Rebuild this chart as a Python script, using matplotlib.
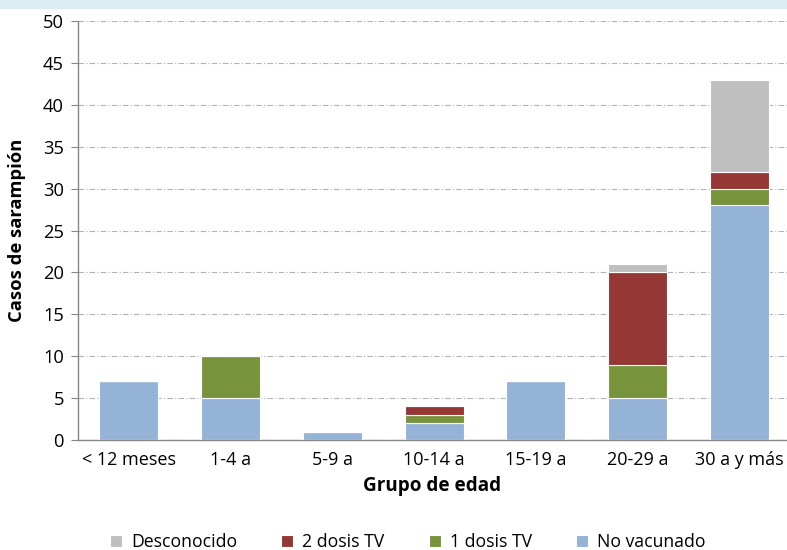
import matplotlib
matplotlib.use("Agg")
import matplotlib.pyplot as plt
from matplotlib.patches import Rectangle
import numpy as np

plt.rcParams['font.family'] = ['Open Sans', 'DejaVu Sans']

categories = ["< 12 meses", "1-4 a", "5-9 a", "10-14 a", "15-19 a", "20-29 a", "30 a y más"]
no_vacunado = [7, 5, 1, 2, 7, 5, 28]
una_dosis = [0, 5, 0, 1, 0, 4, 2]
dos_dosis = [0, 0, 0, 1, 0, 11, 2]
desconocido = [0, 0, 0, 0, 0, 1, 11]

series = [
    ("No vacunado", no_vacunado, "#95b3d7"),
    ("1 dosis TV", una_dosis, "#77933c"),
    ("2 dosis TV", dos_dosis, "#953735"),
    ("Desconocido", desconocido, "#bfbfbf"),
]

fig = plt.figure(figsize=(7.87, 5.5), dpi=100)
fig.patches.append(Rectangle((0, 1 - 8 / 550), 1, 8 / 550, transform=fig.transFigure,
                             color="#dbecf3", zorder=0))
ax = fig.add_axes([78 / 787, 0.2, 1 - 78 / 787, 0.9618 - 0.2])

x = np.arange(len(categories))
bottom = np.zeros(len(categories))
handles = {}
for name, vals, col in series:
    v = np.array(vals, dtype=float)
    b = ax.bar(x, v, 0.58, bottom=bottom, color=col, edgecolor="white", linewidth=0.8, zorder=3)
    handles[name] = b
    bottom += v

ax.set_xlim(-0.5, 6.47)
ax.set_ylim(0, 50)
ax.set_yticks(range(0, 51, 5))
ax.set_xticks(x)
ax.set_xticklabels(categories, fontsize=13)
ax.tick_params(axis='y', labelsize=13.2, length=5, color="#868686", pad=5)
ax.tick_params(axis='x', length=0, pad=8)
ax.yaxis.grid(True, linestyle=(0, (5, 2, 1, 2)), color="#b3b3b3", linewidth=0.8, zorder=0)
ax.set_axisbelow(True)
for s in ["top", "right"]:
    ax.spines[s].set_visible(False)
for s in ["left", "bottom"]:
    ax.spines[s].set_color("#868686")
    ax.spines[s].set_linewidth(1.0)

ax.set_xlabel("Grupo de edad", fontsize=13.6, fontweight="bold", labelpad=5)
ax.set_ylabel("Casos de sarampión", fontsize=13.2, fontweight="bold", labelpad=12)

order = ["Desconocido", "2 dosis TV", "1 dosis TV", "No vacunado"]
leg = fig.legend([handles[n] for n in order], order, loc="center", bbox_to_anchor=(0.518, 0.014),
                 ncol=4, frameon=False, fontsize=12.7, handlelength=0.7, handleheight=0.7,
                 columnspacing=2.5, handletextpad=0.5)

fig.savefig("out.png", dpi=100)
